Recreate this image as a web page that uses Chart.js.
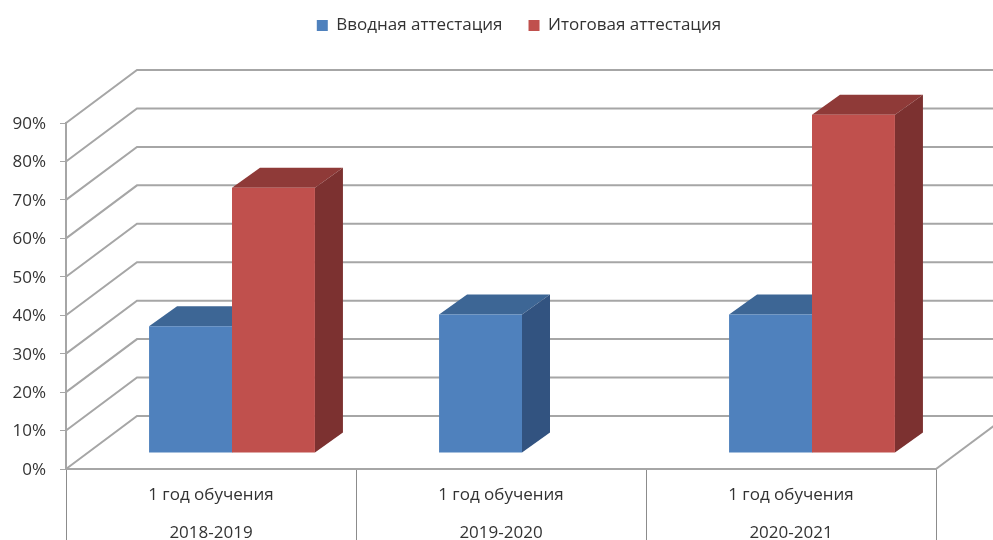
<!DOCTYPE html>
<html>
<head>
<meta charset="utf-8">
<style>
  html, body { margin: 0; padding: 0; background: #fff; overflow: hidden; }
  #chartBox { position: relative; width: 993px; height: 540px; }
</style>
<script src="https://cdn.jsdelivr.net/npm/chart.js@4"></script>
</head>
<body>
<div id="chartBox"><canvas id="Graph1"></canvas></div>
<script>
const categories = [
    ['1 год обучения', '2018-2019'],
    ['1 год обучения', '2019-2020'],
    ['1 год обучения', '2020-2021']
];
const seriesNames = ['Вводная аттестация', 'Итоговая аттестация'];
const entryValues = [33, 36, 36];
const finalValues = [69, null, 88];

const fontName = '"Open Sans", "Noto Sans", sans-serif';
const textColor = '#333333';
const lineColor = '#a6a6a6';
const wallDepth = { x: 71, y: -53 };
const barShift = { x: 21, y: -16 };
const barDepth = { x: 28, y: -20 };
const faces = [
    { top: '#3d6695', side: '#325380' },
    { top: '#8f3a38', side: '#7c3130' }
];

function fillShape(ctx, color, pts) {
    ctx.fillStyle = color;
    ctx.beginPath();
    pts.forEach((p, i) => i ? ctx.lineTo(p[0], p[1]) : ctx.moveTo(p[0], p[1]));
    ctx.closePath();
    ctx.fill();
}

// back walls, floor and the depth faces of the bars
const box3d = {
    id: 'box3d',
    beforeInit(chart) {
        const fit = chart.legend.fit;
        chart.legend.fit = function () {
            fit.call(this);
            this.height = 123;
        };
    },
    afterLayout(chart) {
        chart.legend.left += 51;
        chart.legend.right += 51;
        chart.legend.top = -9;
    },
    beforeDatasetsDraw(chart) {
        const ctx = chart.ctx;
        const area = chart.chartArea;
        const yScale = chart.scales.y;

        ctx.save();
        ctx.strokeStyle = lineColor;
        ctx.lineWidth = 2;
        yScale.ticks.forEach(t => {
            const y = yScale.getPixelForValue(t.value);
            ctx.beginPath();
            ctx.moveTo(area.left, y);
            ctx.lineTo(area.left + wallDepth.x, y + wallDepth.y);
            ctx.lineTo(chart.width, y + wallDepth.y);
            ctx.stroke();
        });
        ctx.beginPath();
        ctx.moveTo(area.right, area.bottom);
        ctx.lineTo(area.right + wallDepth.x, area.bottom + wallDepth.y);
        ctx.stroke();
        ctx.restore();

        ctx.save();
        ctx.translate(barShift.x, barShift.y);
        chart.data.datasets.forEach((ds, i) => {
            chart.getDatasetMeta(i).data.forEach((bar, j) => {
                if (ds.data[j] === null) return;
                const p = bar.getProps(['x', 'y', 'base', 'width'], true);
                const l = p.x - p.width / 2;
                const r = p.x + p.width / 2;
                fillShape(ctx, faces[i].top, [
                    [l, p.y], [r, p.y],
                    [r + barDepth.x, p.y + barDepth.y], [l + barDepth.x, p.y + barDepth.y]
                ]);
                fillShape(ctx, faces[i].side, [
                    [r, p.y], [r + barDepth.x, p.y + barDepth.y],
                    [r + barDepth.x, p.base + barDepth.y], [r, p.base]
                ]);
            });
        });
    },
    afterDatasetsDraw(chart) {
        chart.ctx.restore();
    }
};

new Chart(document.getElementById('Graph1'), {
    type: 'bar',
    data: {
        labels: categories,
        datasets: [
            { label: seriesNames[0], data: entryValues, backgroundColor: '#4f81bd', clip: false },
            { label: seriesNames[1], data: finalValues, backgroundColor: '#c0504d', clip: false }
        ]
    },
    options: {
        responsive: true,
        maintainAspectRatio: false,
        animation: false,
        layout: { padding: { left: 0, right: 57, top: 0, bottom: 0 } },
        datasets: { bar: { barPercentage: 1, categoryPercentage: 0.572 } },
        plugins: {
            tooltip: { enabled: false },
            legend: {
                position: 'top',
                labels: {
                    boxWidth: 11,
                    boxHeight: 11,
                    padding: 26,
                    color: textColor,
                    font: { family: fontName, size: 17 }
                }
            }
        },
        scales: {
            x: {
                afterFit(scale) { scale.height = 71; },
                border: { color: lineColor, width: 2 },
                grid: { drawOnChartArea: false, tickLength: 72, color: '#8c8c8c', offset: true },
                ticks: {
                    color: textColor,
                    padding: -65,
                    maxRotation: 0,
                    font: { family: fontName, size: 17, lineHeight: '38px' }
                }
            },
            y: {
                min: 0,
                max: 90,
                afterFit(scale) { scale.width = 66; },
                border: { color: lineColor, width: 2 },
                grid: { drawOnChartArea: false, tickLength: 6, color: lineColor },
                ticks: {
                    stepSize: 10,
                    padding: 14,
                    labelOffset: 1,
                    color: textColor,
                    font: { family: fontName, size: 17 },
                    callback: v => v + '%'
                }
            }
        }
    },
    plugins: [box3d]
});
</script>
</body>
</html>
